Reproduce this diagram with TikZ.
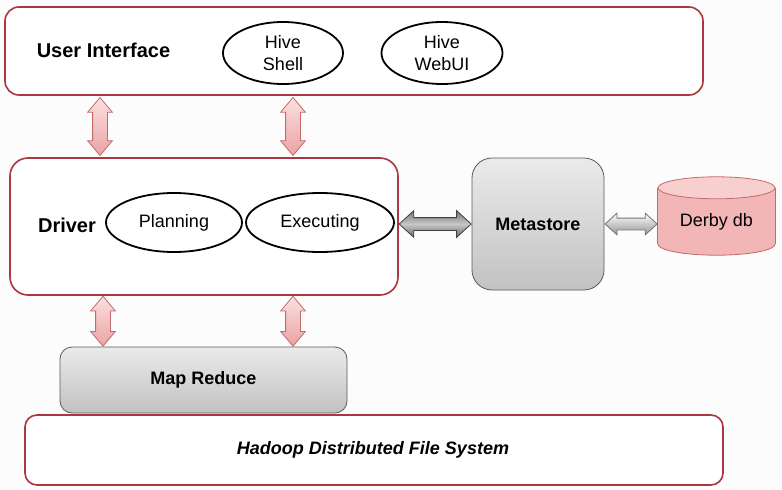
\documentclass[tikz,border=0pt]{standalone}
\usepackage{fontspec}
\setmainfont{Liberation Sans}
\usetikzlibrary{shapes.geometric,shapes.arrows}
\definecolor{redb}{HTML}{A8383E}
\definecolor{bgc}{HTML}{FDFCFC}
\definecolor{pinkl}{HTML}{FAE0E0}
\definecolor{pinkd}{HTML}{EBA3A3}
\definecolor{pinkb}{HTML}{C46A6A}
\definecolor{grayb}{HTML}{5A5A5A}
\definecolor{dbbody}{HTML}{F3B6B6}
\definecolor{dbtop}{HTML}{F8CFCF}
\begin{document}
\begin{tikzpicture}[x=1pt,y=-1pt,
  every node/.style={font=\fontsize{18}{21}\selectfont, align=center},
  redbox/.style={draw=redb, line width=1.6pt, fill=white, rounded corners=14pt, inner sep=0pt},
  graybox/.style={draw=grayb, line width=0.8pt, top color=white!92!black, bottom color=white!76!black, rounded corners=14pt, inner sep=0pt, font=\fontsize{18}{21}\selectfont\bfseries},
  oval/.style={ellipse, draw=black, line width=1.8pt, fill=white, inner sep=0pt},
  varrow/.style={double arrow, shape border rotate=90, draw=pinkb, line width=0.8pt, top color=pinkl, bottom color=pinkd, inner sep=7pt, double arrow head extend=5pt, double arrow tip angle=80},
  harrow/.style={double arrow, draw=black!75, line width=0.8pt, top color=black!55, bottom color=black!60, middle color=black!22, inner sep=6pt, double arrow head extend=7pt, double arrow tip angle=85},
  larrow/.style={double arrow, draw=black!55, line width=0.8pt, top color=white, bottom color=black!42, inner sep=5.5pt, double arrow head extend=5pt, double arrow tip angle=85},
  dbline/.style={draw=pinkb, line width=0.8pt}
]
\fill[bgc] (0,0) rectangle (782,490);
\useasboundingbox (0,0) rectangle (782,490);

% boxes
\node[redbox, minimum width=698pt, minimum height=88pt] (ui) at (354,51) {};
\node[font=\fontsize{20}{24}\selectfont\bfseries] (uit) at (103.5,50) {User Interface};
\node[oval, minimum width=120pt, minimum height=62pt] (shell) at (283,53) {Hive\\[1pt]Shell};
\node[oval, minimum width=121pt, minimum height=62pt] (webui) at (442,53) {Hive\\[1pt]WebUI};

\node[redbox, minimum width=388pt, minimum height=137pt, rounded corners=18pt] (drv) at (204,226.5) {};
\node[font=\fontsize{20}{24}\selectfont\bfseries] (drvt) at (67,225) {Driver};
\node[oval, minimum width=136pt, minimum height=59pt] (plan) at (174,222.5) {Planning};
\node[oval, minimum width=148pt, minimum height=59pt] (exec) at (320,222.5) {Executing};

\node[graybox, minimum width=132pt, minimum height=132pt, rounded corners=20pt] (ms) at (538,224) {Metastore};

% Derby db cylinder
\node[minimum width=117pt, minimum height=78pt, inner sep=0pt] (derby) at (716.5,216) {};
\filldraw[dbline, fill=dbbody] ([yshift=11pt]derby.south) ellipse [x radius=58.5pt, y radius=11pt];
\fill[dbbody] ([yshift=-11pt]derby.north west) rectangle ([yshift=11pt]derby.south east);
\draw[dbline] ([yshift=-11pt]derby.north west) -- ([yshift=11pt]derby.south west);
\draw[dbline] ([yshift=-11pt]derby.north east) -- ([yshift=11pt]derby.south east);
\filldraw[dbline, fill=dbtop] ([yshift=-11pt]derby.north) ellipse [x radius=58.5pt, y radius=11pt];
\node (derbyt) at (716.5,222) {Derby db};

\node[graybox, minimum width=287pt, minimum height=66pt, rounded corners=12pt] (mr) at (203.5,380) {Map Reduce};

\node[redbox, minimum width=698pt, minimum height=70pt, rounded corners=12pt] (hdfs) at (374,450) {};
\node[font=\fontsize{18}{21}\selectfont\bfseries\itshape] (hdfst) at (373,450) {Hadoop Distributed File System};

% connectors
\coordinate (c1) at (100,0);
\coordinate (c2) at (293,0);
\coordinate (c3) at (103,0);
\path (ui.south -| c1) -- (drv.north -| c1) node[midway, varrow, minimum height=58pt] (a1) {};
\path (ui.south -| c2) -- (drv.north -| c2) node[midway, varrow, minimum height=58pt] (a2) {};
\path (drv.south -| c3) -- (mr.north -| c3) node[midway, varrow, minimum height=50pt] (a3) {};
\path (drv.south -| c2) -- (mr.north -| c2) node[midway, varrow, minimum height=50pt] (a4) {};
\path (drv.east |- ms) -- (ms.west) node[midway, harrow, minimum height=72pt] (a5) {};
\path (ms.east) -- (derby.west |- ms) node[midway, larrow, minimum height=52pt] (a6) {};
\end{tikzpicture}
\end{document}
